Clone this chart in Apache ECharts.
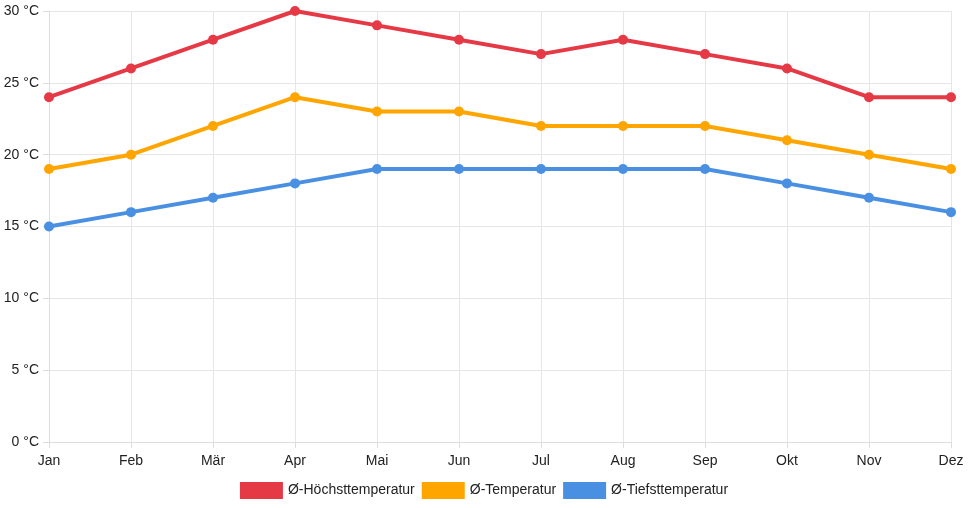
<!DOCTYPE html>
<html><head><meta charset="utf-8">
<script src="https://cdn.jsdelivr.net/npm/echarts@6/dist/echarts.min.js"></script>
<style>html,body{margin:0;padding:0;background:#fff}#c{width:968px;height:508px}</style>
</head><body><div id="c"></div>
<script>
const months = ['Jan','Feb','Mär','Apr','Mai','Jun','Jul','Aug','Sep','Okt','Nov','Dez'];
const highTemp = [24,26,28,30,29,28,27,28,27,26,24,24];
const meanTemp = [19,20,22,24,23,23,22,22,22,21,20,19];
const lowTemp = [15,16,17,18,19,19,19,19,19,18,17,16];
const seriesNames = ['Ø-Höchsttemperatur','Ø-Temperatur','Ø-Tiefsttemperatur'];
const colors = ['#e63946','#ffa500','#4a90e2'];

const chart = echarts.init(document.getElementById('c'));
const font = 'Liberation Sans, Arial, sans-serif';
function mk(name, data, color){
  return {name, type:'line', data, color,
    lineStyle:{width:4,color}, itemStyle:{color},
    symbol:'circle', symbolSize:10, showSymbol:true};
}
chart.setOption({
  animation:false,
  textStyle:{fontFamily:font},
  grid:{left:49,right:17,top:11,bottom:66,containLabel:false},
  legend:{bottom:4,left:'center',itemWidth:43,itemHeight:17,itemGap:7,
    icon:'rect',textStyle:{fontSize:14,color:'#222',fontFamily:font},
    data:seriesNames},
  xAxis:{type:'category',data:months,boundaryGap:false,
    axisLine:{lineStyle:{color:'#ddd'}},
    axisTick:{show:true,length:6,lineStyle:{color:'#ddd'}},
    axisLabel:{color:'#222',fontSize:14,margin:12,fontFamily:font},
    splitLine:{show:true,lineStyle:{color:'#e6e6e6'}}},
  yAxis:{type:'value',min:0,max:30,interval:5,
    axisLine:{show:true,lineStyle:{color:'#ddd'}},
    axisTick:{show:true,length:6,lineStyle:{color:'#ddd'}},
    axisLabel:{color:'#222',fontSize:14,margin:10,fontFamily:font,formatter:'{value} °C'},
    splitLine:{lineStyle:{color:'#e6e6e6'}}},
  series:[mk(seriesNames[0],highTemp,colors[0]),mk(seriesNames[1],meanTemp,colors[1]),mk(seriesNames[2],lowTemp,colors[2])]
});
</script></body></html>
